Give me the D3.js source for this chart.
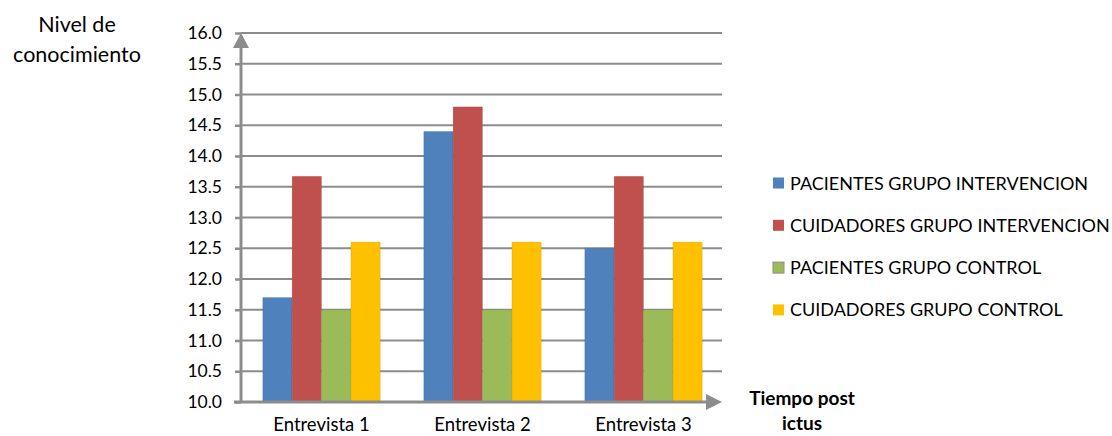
<!DOCTYPE html>
<html><head><meta charset="utf-8">
<script src="https://cdn.jsdelivr.net/npm/d3@7"></script>
<style>body{margin:0;background:#fff}svg{display:block}text{font-family:Lato,"Open Sans",sans-serif;fill:#000}</style>
</head><body><svg id="c" width="1112" height="436"></svg>
<script>
const categories = ["Entrevista 1", "Entrevista 2", "Entrevista 3"];
const seriesNames = ["PACIENTES GRUPO INTERVENCION", "CUIDADORES GRUPO INTERVENCION", "PACIENTES GRUPO CONTROL", "CUIDADORES GRUPO CONTROL"];
const pacientesIntervencion = [11.7, 14.4, 12.5];
const cuidadoresIntervencion = [13.67, 14.8, 13.67];
const pacientesControl = [11.5, 11.5, 11.5];
const cuidadoresControl = [12.6, 12.6, 12.6];
const yTicks = [10.0,10.5,11.0,11.5,12.0,12.5,13.0,13.5,14.0,14.5,15.0,15.5,16.0];
const colors = ["#4F81BD", "#C0504D", "#9BBB59", "#FFC000"];
const seriesValues = [pacientesIntervencion, cuidadoresIntervencion, pacientesControl, cuidadoresControl];

const svg = d3.select("#c");
const x0 = 241, x1 = 724, yTop = 33, yBot = 402;
const x = d3.scaleBand().domain(categories).range([x0, x1]).paddingInner(0.27).paddingOuter(0.135);
const xs = d3.scaleBand().domain(d3.range(4)).range([0, x.bandwidth()]);
const y = d3.scaleLinear().domain([10, 16]).range([yBot, yTop]);

// gridlines
svg.append("g").selectAll("line").data(yTicks.slice(1)).join("line")
  .attr("x1", x0).attr("x2", 722).attr("y1", d => y(d)).attr("y2", d => y(d))
  .attr("stroke", "#8c8c8c").attr("stroke-width", 2);

// bars
const g = svg.append("g");
categories.forEach((c, ci) => {
  seriesValues.forEach((vals, si) => {
    g.append("rect").attr("x", x(c) + xs(si)).attr("width", xs.bandwidth())
      .attr("y", y(vals[ci])).attr("height", y(10) - y(vals[ci]))
      .attr("fill", colors[si]).attr("stroke", "rgba(0,0,0,0.08)").attr("stroke-width", 1);
  });
});

// y axis with ticks
const yAxis = d3.axisLeft(y).tickValues(yTicks).tickFormat(d3.format(".1f")).tickSize(6).tickPadding(13);
const ya = svg.append("g").attr("transform", `translate(${x0},0)`).call(yAxis);
ya.select(".domain").remove();
ya.selectAll(".tick line").attr("stroke", "#8c8c8c").attr("stroke-width", 2.5);
ya.selectAll(".tick text").attr("font-size", 17.5).style("font-family", "Lato, sans-serif").attr("fill", "#000");

// axis lines with arrows
svg.append("path").attr("d", `M${x0},${yBot+1} L${x0},47`).attr("stroke", "#8c8c8c").attr("stroke-width", 3).attr("fill", "none");
svg.append("path").attr("d", "M233,48 L241,33 L249,48 Z").attr("fill", "#8c8c8c");
svg.append("path").attr("d", `M${x0-7},${yBot} L707,${yBot}`).attr("stroke", "#8c8c8c").attr("stroke-width", 3).attr("fill", "none");
svg.append("path").attr("d", `M706,${yBot-8} L722,${yBot} L706,${yBot+8} Z`).attr("fill", "#8c8c8c");

// category labels
svg.append("g").selectAll("text").data(categories).join("text")
  .attr("x", d => x(d) + x.bandwidth() / 2).attr("y", 431).attr("text-anchor", "middle")
  .attr("font-size", 18.5).text(d => d);

// axis titles
const yt = svg.append("text").attr("text-anchor", "middle").attr("font-size", 21.5);
yt.append("tspan").attr("x", 77).attr("y", 32).text("Nivel de");
yt.append("tspan").attr("x", 77).attr("y", 62).text("conocimiento");
const xt = svg.append("text").attr("text-anchor", "middle").attr("font-size", 19).attr("font-weight", "bold");
xt.append("tspan").attr("x", 802).attr("y", 405).text("Tiempo post");
xt.append("tspan").attr("x", 802).attr("y", 430).text("ictus");

// legend
const lg = svg.append("g").selectAll("g").data(seriesNames).join("g")
  .attr("transform", (d, i) => `translate(773,${183 + i * 42.3})`);
lg.append("rect").attr("x", 0).attr("y", -5.5).attr("width", 11).attr("height", 11)
  .attr("fill", (d, i) => colors[i]).attr("stroke", (d, i) => i === 2 ? "#8c8c8c" : "none").attr("stroke-width", 1);
lg.append("text").attr("x", 17).attr("y", 6.5).attr("font-size", 18).text(d => d);
</script></body></html>
